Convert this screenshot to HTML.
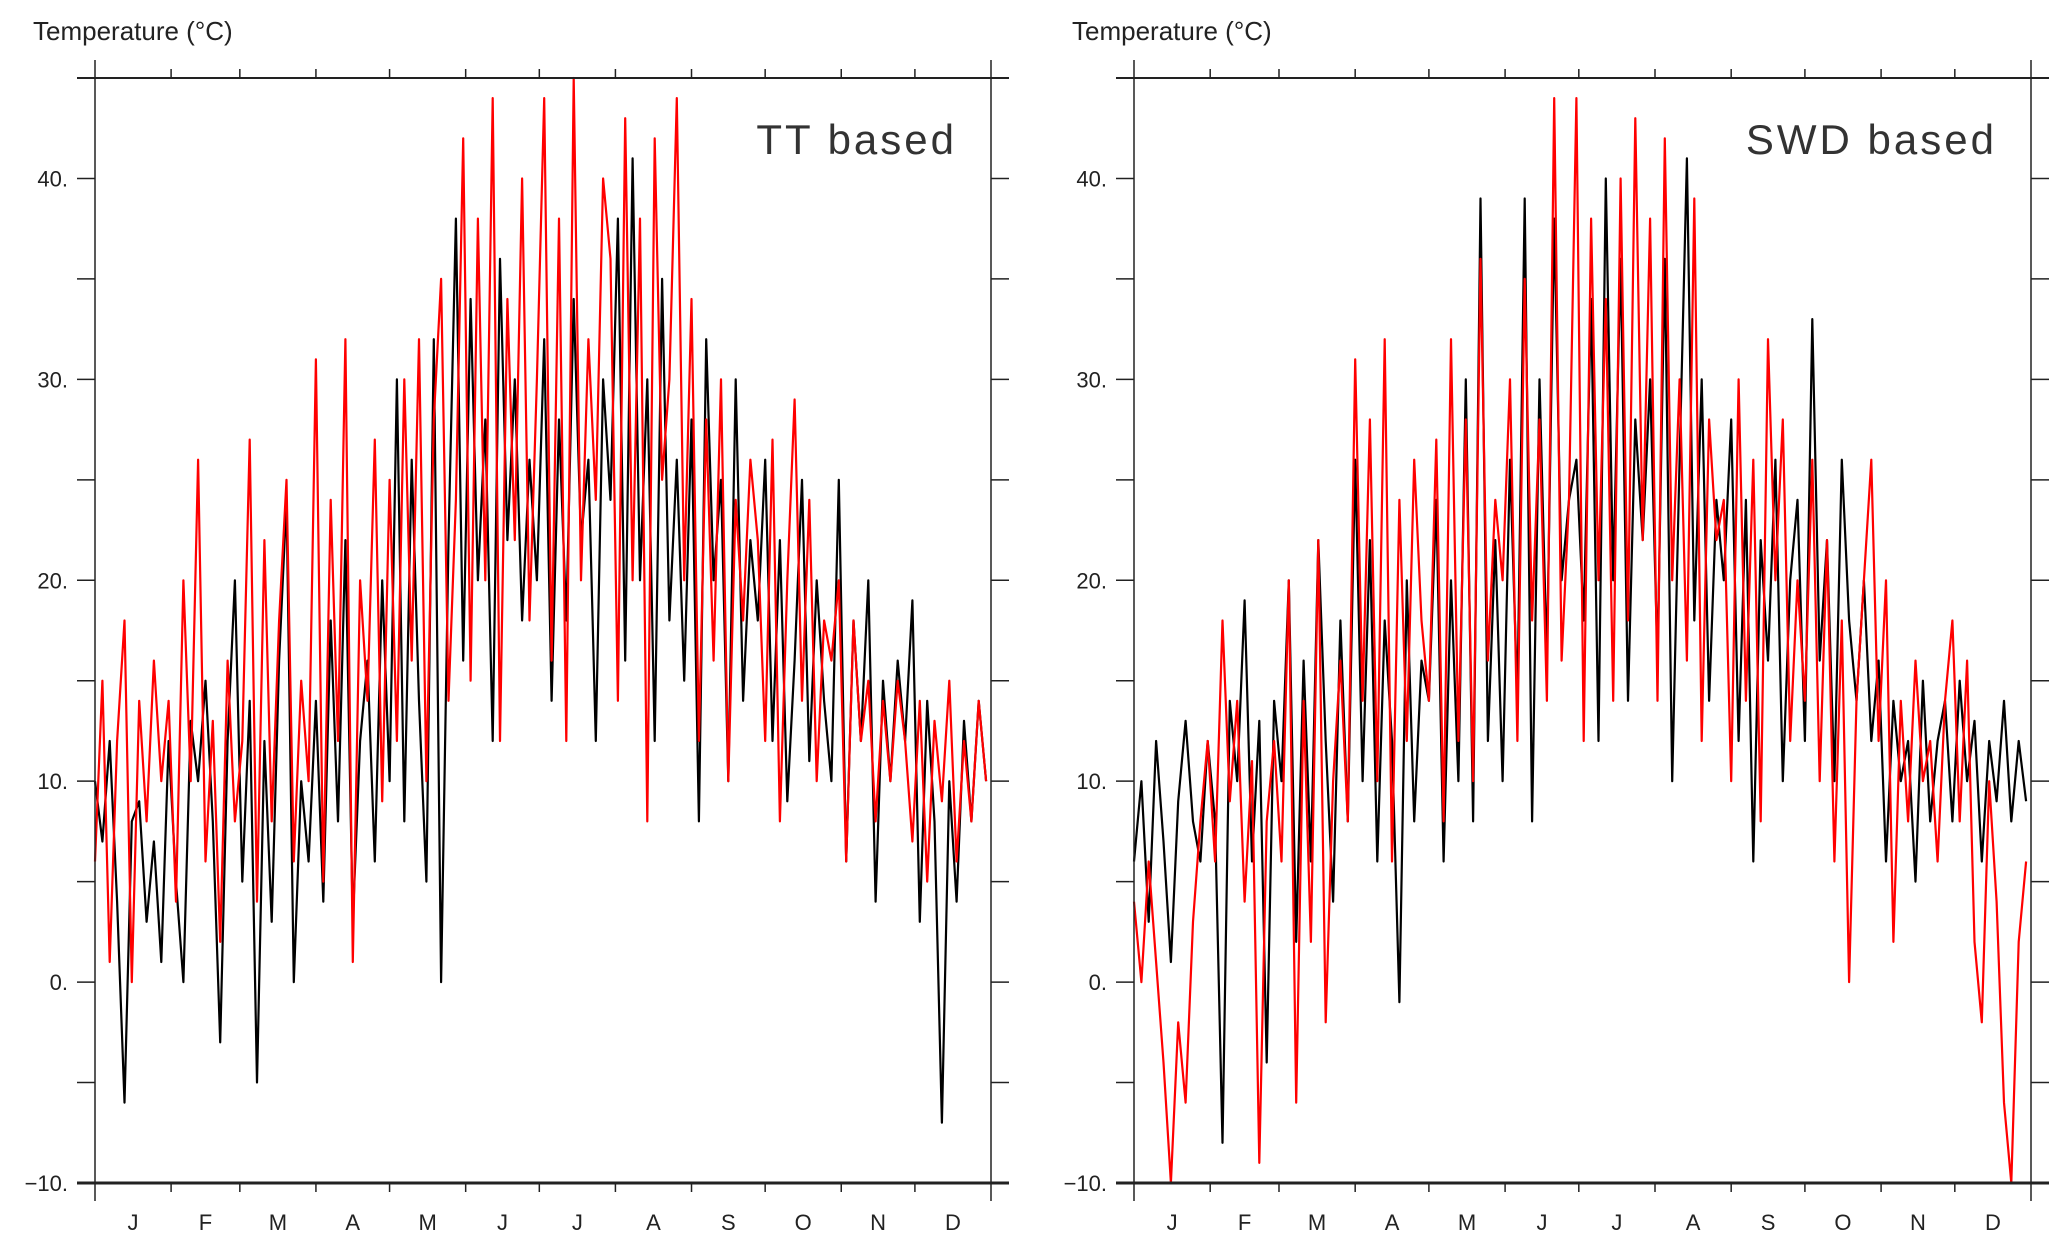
<!DOCTYPE html>
<html><head><meta charset="utf-8">
<style>
html,body{margin:0;padding:0;background:#fff;}
svg{display:block;}
text{font-family:"Liberation Sans",sans-serif;fill:#222;}
</style></head>
<body>
<svg id="chart" width="2067" height="1239" viewBox="0 0 2067 1239" xmlns="http://www.w3.org/2000/svg"></svg>
<script>
const monthLabels = ["J","F","M","A","M","J","J","A","S","O","N","D"];
const monthStarts = [0,31,59,90,120,151,181,212,243,273,304,334,365];
const yTicks = [-10,-5,0,5,10,15,20,25,30,35,40,45];
const yLabels = ["-10.","","0.","","10.","","20.","","30.","","40.",""];
const stepDays = 3;

const ttBlack = [10,7,12,4,-6,8,9,3,7,1, 12,5,0,13,10,15,8,-3,12,20, 5,14,-5,12,3,16,24,0,10,6, 14,4,18,8,22,3,12,16,6,20, 10,30,8,26,14,5,32,0,22,38, 16,34,20,28,12,36,22,30,18,26, 20,32,14,28,18,34,22,26,12,30, 24,38,16,41,20,30,12,35,18,26, 15,28,8,32,20,25,10,30,14,22, 18,26,12,22,9,16,25,11,20,14, 10,25,6,18,12,20,4,15,10,16, 12,19,3,14,8,-7,10,4,13,8,14,10];
const ttRed = [6,15,1,12,18,0,14,8,16,10, 14,4,20,10,26,6,13,2,16,8, 12,27,4,22,8,18,25,6,15,10, 31,5,24,12,32,1,20,14,27,9, 25,12,30,16,32,10,28,35,14,24, 42,15,38,20,44,12,34,22,40,18, 30,44,16,38,12,45,20,32,24,40, 36,14,43,20,38,8,42,25,30,44, 20,34,12,28,16,30,10,24,18,26, 22,12,27,8,20,29,14,24,10,18, 16,20,6,18,12,15,8,14,10,15, 12,7,14,5,13,9,15,6,12,8,14,10];
const swdBlack = [6,10,3,12,7,1,9,13,8,6, 12,8,-8,14,10,19,6,13,-4,14, 10,20,2,16,6,22,12,4,18,8, 26,10,22,6,18,12,-1,20,8,16, 14,24,6,20,10,30,8,39,12,22, 10,26,14,39,8,30,16,38,20,24, 26,18,34,12,40,20,36,14,28,22, 30,16,36,10,26,41,18,30,14,24, 20,28,12,24,6,22,16,26,10,20, 24,12,33,16,22,10,26,18,14,20, 12,16,6,14,10,12,5,15,8,12, 14,8,15,10,13,6,12,9,14,8,12,9];
const swdRed = [4,0,6,1,-4,-10,-2,-6,3,8, 12,6,18,9,14,4,11,-9,8,12, 6,20,-6,14,2,22,-2,10,16,8, 31,14,28,10,32,6,24,12,26,18, 14,27,8,32,12,28,10,36,16,24, 20,30,12,35,18,28,14,44,16,24, 44,12,38,20,34,14,40,18,43,22, 38,14,42,20,30,16,39,12,28,22, 24,10,30,14,26,8,32,20,28,12, 20,14,26,10,22,6,18,0,14,20, 26,12,20,2,14,8,16,10,12,6, 14,18,8,16,2,-2,10,4,-6,-10,2,6];

const NS="http://www.w3.org/2000/svg";
const svg=document.getElementById('chart');
function mk(tag,attrs,parent){const e=document.createElementNS(NS,tag);for(const k in attrs)e.setAttribute(k,attrs[k]);(parent||svg).appendChild(e);return e;}

function panel(x0,x1,title,black,red,key){
  const top=78,bot=1183,yMin=-10,yMax=45;
  const g=mk('g',{});
  
  
  const X=d=>x0+(x1-x0)*d/365;
  const Y=v=>bot-(v-yMin)*(bot-top)/(yMax-yMin);
  [[black,'#000','black'],[red,'#ff0000','red']].forEach(([arr,col,nm])=>{
    const pts=arr.map((v,i)=>X(i*stepDays).toFixed(1)+','+Y(v).toFixed(1)).join(' ');
    const p=mk('polyline',{points:pts,fill:'none',stroke:col,'stroke-width':2.2,'stroke-linejoin':'round'},g);
    
    
  });
  const ax=mk('g',{stroke:'#222',fill:'none'},g);
  
  
  mk('line',{x1:x0-18,y1:top,x2:x1+18,y2:top,'stroke-width':2},ax);
  mk('line',{x1:x0-18,y1:bot,x2:x1+18,y2:bot,'stroke-width':3},ax);
  mk('line',{x1:x0,y1:top-18,x2:x0,y2:bot+18,'stroke-width':1.5},ax);
  mk('line',{x1:x1,y1:top-18,x2:x1,y2:bot+18,'stroke-width':1.5},ax);
  monthStarts.slice(1,-1).forEach(d=>{
    mk('line',{x1:X(d),y1:top,x2:X(d),y2:top-9,'stroke-width':1.5},ax);
    mk('line',{x1:X(d),y1:bot,x2:X(d),y2:bot+9,'stroke-width':1.5},ax);
  });
  yTicks.forEach((v,i)=>{
    mk('line',{x1:x0-18,y1:Y(v),x2:x0,y2:Y(v),'stroke-width':1.5},ax);
    mk('line',{x1:x1,y1:Y(v),x2:x1+18,y2:Y(v),'stroke-width':1.5},ax);
    if(yLabels[i]){
      const t=mk('text',{x:x0-27,y:Y(v)+8,'text-anchor':'end','font-size':22},g);
      t.textContent=yLabels[i].replace('-','\u2212');
      
      
    }
  });
  monthLabels.forEach((m,i)=>{
    const t=mk('text',{x:X((monthStarts[i]+monthStarts[i+1])/2),y:1230,'text-anchor':'middle','font-size':22},g);
    t.textContent=m;
    
    
  });
  const yt=mk('text',{x:x0-62,y:40,'font-size':26},g);
  yt.textContent='Temperature (°C)';
  
  
  const tt=mk('text',{x:x1-34,y:154,'text-anchor':'end','font-size':42,'letter-spacing':'3','font-weight':'300',style:'fill:#333'},g);
  tt.setAttribute('xml:space','preserve');
  tt.textContent=title;
  
  
}
panel(95,991,'TT  based',ttBlack,ttRed,'tt');
panel(1134,2031,'SWD  based',swdBlack,swdRed,'swd');
</script>
</body></html>
